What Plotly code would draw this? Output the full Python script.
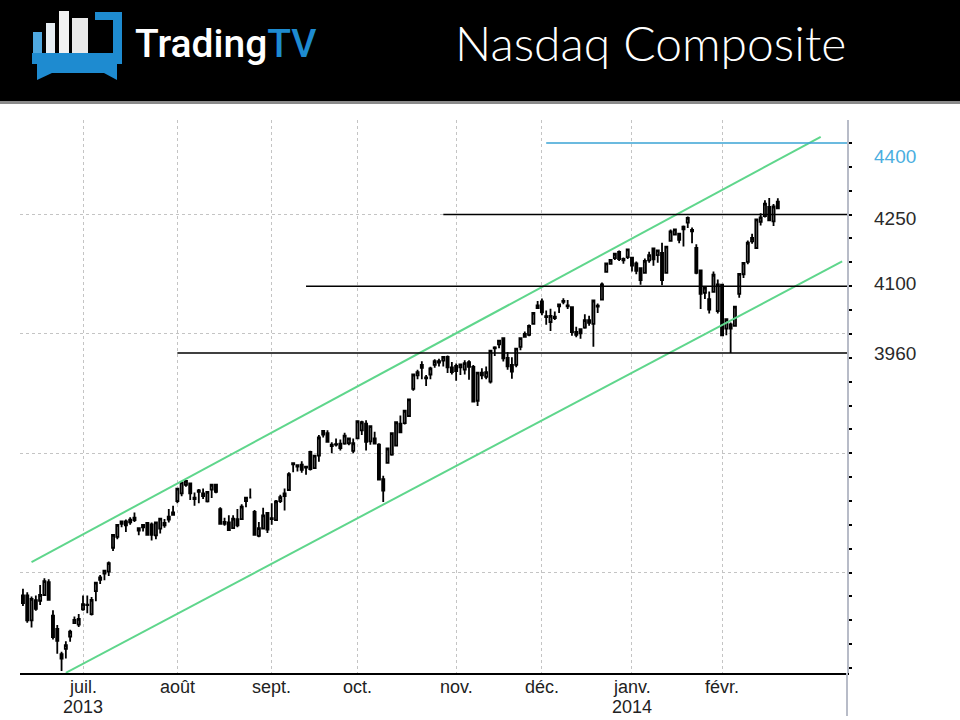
import pandas as pd
import plotly.graph_objects as go

# ---------------- data ----------------
HOLIDAYS = ["2013-07-04", "2013-09-02", "2013-11-28", "2013-12-25",
            "2014-01-01", "2014-01-20", "2014-02-17"]
CALENDAR = [d.strftime("%Y-%m-%d") for d in pd.bdate_range("2013-06-11", "2014-03-21")
            if d.strftime("%Y-%m-%d") not in HOLIDAYS]

OPEN = [
    3452, 3452, 3400, 3442, 3441, 3453, 3480, 3410, 3382, 3329, 3340, 3366, 3394, 3391,
    3423, 3432, 3413, 3461, 3490, 3498, 3502, 3552, 3575, 3602, 3607, 3605, 3615, 3593, 3595, 3604, 3601, 3578, 3592, 3604, 3611, 3621,
    3650, 3666, 3684, 3687, 3657, 3672, 3666, 3649, 3674, 3684, 3633, 3606, 3605, 3593, 3612, 3612, 3650, 3657, 3627, 3577, 3592, 3625,
    3614, 3610, 3650, 3666, 3673, 3727, 3722, 3726, 3720, 3753, 3719, 3745, 3797, 3792, 3768, 3769, 3770, 3770, 3771, 3755,
    3781, 3798, 3812, 3775, 3781, 3768, 3696, 3730, 3747, 3766, 3812, 3813, 3828, 3885, 3913, 3935, 3909, 3915, 3935, 3943, 3944, 3952, 3930,
    3933, 3930, 3925, 3941, 3931, 3860, 3913, 3910, 3900, 3970, 3978, 3991, 3950, 3935, 3935, 3973, 4000, 3998, 4021, 4054,
    4068, 4035, 4025, 4036, 4058, 4067, 4058, 4056, 4004, 4010, 4013, 4029, 4021, 4057, 4072, 4130, 4147, 4159, 4172, 4157, 4161,
    4160, 4148, 4138, 4128, 4154, 4179, 4165, 4170, 4128, 4195, 4208, 4210, 4219, 4233, 4215, 4180, 4133, 4086, 4073, 4088, 4048,
    4103, 4011, 4020, 4017, 4084, 4125, 4151, 4194, 4180, 4235, 4247, 4266, 4236, 4277,
]
HIGH = [
    3466, 3459, 3450, 3452, 3474, 3488, 3486, 3421, 3390, 3334, 3356, 3380, 3408, 3413,
    3452, 3452, 3449, 3481, 3495, 3506, 3523, 3579, 3602, 3609, 3611, 3616, 3626, 3594, 3600, 3606, 3605, 3606, 3614, 3612, 3633, 3640,
    3676, 3689, 3694, 3688, 3668, 3675, 3676, 3670, 3686, 3686, 3637, 3615, 3620, 3620, 3633, 3643, 3658, 3676, 3631, 3606, 3636, 3626,
    3645, 3652, 3663, 3676, 3710, 3730, 3727, 3733, 3724, 3755, 3747, 3788, 3798, 3798, 3773, 3781, 3779, 3793, 3782, 3781,
    3818, 3818, 3819, 3808, 3795, 3771, 3703, 3760, 3792, 3817, 3829, 3839, 3864, 3915, 3925, 3943, 3914, 3931, 3947, 3948, 3952, 3955, 3941,
    3938, 3936, 3945, 3945, 3935, 3920, 3928, 3932, 3966, 3974, 3986, 3993, 3962, 3951, 3970, 3991, 4005, 4020, 4046, 4069,
    4074, 4049, 4053, 4047, 4063, 4075, 4071, 4058, 4015, 4011, 4041, 4038, 4070, 4064, 4108, 4148, 4155, 4168, 4175, 4160, 4177,
    4160, 4152, 4139, 4158, 4172, 4180, 4175, 4191, 4183, 4219, 4219, 4212, 4227, 4246, 4223, 4188, 4134, 4098, 4089, 4131, 4114,
    4105, 4033, 4024, 4057, 4126, 4149, 4196, 4210, 4240, 4253, 4280, 4285, 4272, 4284,
]
LOW = [
    3430, 3395, 3385, 3420, 3432, 3453, 3443, 3360, 3330, 3294, 3320, 3355, 3394, 3386,
    3420, 3415, 3410, 3440, 3476, 3484, 3493, 3545, 3570, 3595, 3585, 3600, 3606, 3578, 3586, 3578, 3567, 3570, 3582, 3594, 3605, 3621,
    3645, 3660, 3680, 3652, 3640, 3645, 3654, 3647, 3656, 3666, 3600, 3598, 3588, 3592, 3595, 3612, 3637, 3655, 3578, 3574, 3590, 3583,
    3600, 3608, 3646, 3630, 3673, 3710, 3712, 3709, 3705, 3714, 3718, 3732, 3783, 3773, 3750, 3764, 3756, 3768, 3767, 3750,
    3780, 3788, 3756, 3768, 3770, 3694, 3648, 3728, 3745, 3764, 3793, 3810, 3826, 3881, 3905, 3905, 3891, 3905, 3929, 3932, 3932, 3918, 3915,
    3902, 3914, 3915, 3904, 3857, 3849, 3905, 3905, 3896, 3954, 3970, 3942, 3925, 3906, 3930, 3966, 3992, 3995, 4020, 4052,
    4039, 4019, 4006, 4029, 4044, 4062, 4052, 3996, 3993, 3990, 4011, 4017, 3973, 4044, 4071, 4128, 4145, 4155, 4153, 4147, 4157,
    4131, 4125, 4103, 4127, 4149, 4143, 4149, 4102, 4128, 4195, 4206, 4190, 4183, 4222, 4190, 4125, 4052, 4073, 4043, 4087, 4043,
    3996, 3997, 3960, 4015, 4076, 4117, 4146, 4189, 4178, 4227, 4244, 4236, 4226, 4261,
]
CLOSE = [
    3436, 3400, 3445, 3424, 3453, 3482, 3443, 3365, 3357, 3320, 3348, 3376, 3401, 3403,
    3434, 3433, 3443, 3479, 3485, 3504, 3520, 3579, 3600, 3607, 3599, 3611, 3610, 3588, 3600, 3579, 3579, 3605, 3613, 3599, 3617, 3626,
    3676, 3689, 3692, 3666, 3654, 3669, 3660, 3669, 3684, 3669, 3602, 3602, 3589, 3613, 3599, 3638, 3657, 3657, 3579, 3593, 3620, 3590,
    3612, 3649, 3658, 3660, 3706, 3729, 3725, 3715, 3722, 3717, 3745, 3783, 3789, 3774, 3765, 3768, 3761, 3787, 3781, 3771,
    3817, 3815, 3774, 3807, 3770, 3695, 3672, 3760, 3792, 3815, 3794, 3839, 3863, 3915, 3920, 3929, 3907, 3928, 3943, 3940, 3952, 3930, 3920,
    3922, 3936, 3939, 3931, 3858, 3919, 3919, 3920, 3965, 3972, 3986, 3949, 3932, 3921, 3969, 3991, 3994, 4017, 4044, 4060,
    4045, 4037, 4038, 4033, 4062, 4069, 4060, 4004, 3998, 4001, 4029, 4023, 4070, 4059, 4104, 4148, 4155, 4168, 4157, 4154, 4177,
    4143, 4132, 4113, 4153, 4165, 4156, 4175, 4113, 4183, 4215, 4219, 4197, 4225, 4243, 4218, 4128, 4084, 4097, 4051, 4124, 4104,
    3997, 4031, 4011, 4057, 4126, 4149, 4191, 4201, 4240, 4244, 4273, 4238, 4267, 4263,
]

MONTH_LABELS = ["juil.", "août", "sept.", "oct.", "nov.", "déc.", "janv.", "févr."]
YEAR_LABELS = ["2013", "2014"]
YEAR_AT = ["2013-07", "2014-01"]

LEVEL_VALUES = [3960, 4100, 4250, 4400]
LEVEL_LABELS = ["3960", "4100", "4250", "4400"]
LEVEL_START = ["2013-08-01", "2013-09-13", "2013-10-29", "2013-12-03"]

CHANNEL_UP_DATES = ["2013-06-13", "2014-03-07"]
CHANNEL_UP_VALUES = [3522, 4413]
CHANNEL_LO_DATES = ["2013-06-25", "2014-03-14"]
CHANNEL_LO_VALUES = [3290, 4152]

TITLE = "Nasdaq Composite"

# ---------------- helpers ----------------
for arr in (OPEN, HIGH, LOW):
    if len(arr) != len(CLOSE):
        raise ValueError("length mismatch")
N = len(CLOSE)
DATES = CALENDAR[:N]
IDX = {d: i for i, d in enumerate(CALENDAR)}
X = list(range(N))

# month-start positions
month_pos = []
seen = set()
for i, d in enumerate(DATES):
    m = d[:7]
    if m not in seen:
        seen.add(m)
        month_pos.append((m, i))
month_pos = [p for p in month_pos if p[0] >= "2013-07"]
TICKVALS = [p[1] for p in month_pos]
month_index = dict(month_pos)

X_MIN, X_MAX = -0.69, 192.13
Y_MIN, Y_MAX = 3289.6, 4448.2

# pixel layout helpers
PL, PR, PT, PB = 20, 847, 120, 673
W, H = 960, 720
def px_x(px):
    return (px - PL) / (PR - PL)
def px_y(py):
    return (PB - py) / (PB - PT)

fig = go.Figure()

fig.add_trace(go.Candlestick(
    x=X, open=OPEN, high=HIGH, low=LOW, close=CLOSE,
    increasing=dict(fillcolor="white", line=dict(color="black", width=1.8)),
    decreasing=dict(fillcolor="black", line=dict(color="black", width=1.8)),
    whiskerwidth=0, showlegend=False, hoverinfo="skip",
))

# channel lines
fig.add_trace(go.Scatter(x=[IDX[d] for d in CHANNEL_UP_DATES], y=CHANNEL_UP_VALUES,
                         mode="lines", line=dict(color="#5fd68c", width=2),
                         showlegend=False, hoverinfo="skip"))
fig.add_trace(go.Scatter(x=[IDX[d] for d in CHANNEL_LO_DATES], y=CHANNEL_LO_VALUES,
                         mode="lines", line=dict(color="#5fd68c", width=2),
                         showlegend=False, hoverinfo="skip"))

# horizontal levels
label_shift = [0, 3, -4, -13]
for v, s, lab, sh in zip(LEVEL_VALUES, LEVEL_START, LEVEL_LABELS, label_shift):
    col = "#3aa3d4" if v == 4400 else "black"
    fig.add_trace(go.Scatter(x=[IDX[s], X_MAX], y=[v, v], mode="lines",
                             line=dict(color=col, width=1.5),
                             showlegend=False, hoverinfo="skip", cliponaxis=False))
    fig.add_annotation(x=px_x(895), xref="paper", y=v, yref="y", yshift=sh,
                       text=lab, showarrow=False, xanchor="center", yanchor="middle",
                       font=dict(family="Liberation Sans, Arial", size=19,
                                 color="#4aaee0" if v == 4400 else "#2a2a2a"))

# month and year labels
for lab, tv in zip(MONTH_LABELS, TICKVALS):
    fig.add_annotation(x=tv, xref="x", y=px_y(687), yref="paper",
                       text=lab, showarrow=False, xanchor="center", yanchor="middle",
                       font=dict(family="Liberation Sans, Arial", size=18, color="#222"))
for lab, ym in zip(YEAR_LABELS, YEAR_AT):
    fig.add_annotation(x=month_index[ym], xref="x", y=px_y(707), yref="paper",
                       text=lab, showarrow=False, xanchor="center", yanchor="middle",
                       font=dict(family="Liberation Sans, Arial", size=18, color="#222"))

# header
shapes = []
shapes.append(dict(type="rect", xref="paper", yref="paper",
                   x0=px_x(0), x1=px_x(W), y0=px_y(101), y1=px_y(0),
                   fillcolor="black", line=dict(width=0), layer="above"))
shapes.append(dict(type="rect", xref="paper", yref="paper",
                   x0=px_x(0), x1=px_x(W), y0=px_y(104), y1=px_y(101),
                   fillcolor="#8a8a8a", line=dict(width=0), layer="above"))
# right axis extension below x axis
shapes.append(dict(type="line", xref="paper", yref="paper",
                   x0=1, x1=1, y0=px_y(716), y1=0,
                   line=dict(color="#b8bcc8", width=2)))

# logo icon
BLUE = "#1e8bd0"
def rect(x0, y0, x1, y1, color):
    return dict(type="rect", xref="paper", yref="paper",
                x0=px_x(x0), x1=px_x(x1), y0=px_y(y1), y1=px_y(y0),
                fillcolor=color, line=dict(width=0), layer="above")
shapes += [
    rect(33, 32, 42, 53, "#4fa8e0"),
    rect(46, 23, 55, 53, "#e6edf2"),
    rect(59, 11, 69, 53, "#f2f2f2"),
    rect(72, 18, 88, 53, "#e9e9e9"),
    rect(95, 12, 122, 20, BLUE),
    rect(113, 12, 122, 63, BLUE),
    rect(32, 53, 122, 64, BLUE),
]
pts = [(37, 64), (117, 64), (117, 80), (104, 73), (52, 73), (37, 80)]
path = "M " + " L ".join(f"{px_x(a):.5f},{px_y(b):.5f}" for a, b in pts) + " Z"
shapes.append(dict(type="path", xref="paper", yref="paper", path=path,
                   fillcolor=BLUE, line=dict(width=0), layer="above"))

fig.add_annotation(x=px_x(226), xref="paper", y=px_y(44), yref="paper",
                   text="Trading<span style='color:#1e8bd0'>TV</span>",
                   showarrow=False, xanchor="center", yanchor="middle",
                   font=dict(family="Roboto", size=39, color="white", weight=500))
fig.add_annotation(x=px_x(650), xref="paper", y=px_y(42), yref="paper",
                   text=TITLE, showarrow=False, xanchor="center", yanchor="middle",
                   font=dict(family="Lato", size=48, color="white", weight=300))

fig.update_layout(
    width=W, height=H,
    margin=dict(l=PL, r=W - PR, t=PT, b=H - PB),
    paper_bgcolor="white", plot_bgcolor="white",
    shapes=shapes, showlegend=False, hovermode=False,
    xaxis=dict(range=[X_MIN, X_MAX], tickmode="array", tickvals=TICKVALS,
               showticklabels=False, ticks="", showgrid=True,
               gridcolor="#c4c4c4", griddash="dot", gridwidth=1,
               showline=True, linecolor="black", linewidth=2, zeroline=False,
               rangeslider=dict(visible=False)),
    yaxis=dict(side="right", range=[Y_MIN, Y_MAX], tickmode="array",
               tickvals=[3500, 3750, 4000, 4250], showticklabels=False,
               ticks="outside", ticklen=3, tickwidth=2, tickcolor="black",
               showgrid=True, gridcolor="#c4c4c4", griddash="dot", gridwidth=1,
               showline=True, linecolor="#b8bcc8", linewidth=2, zeroline=False,
               minor=dict(tickmode="linear", tick0=0, dtick=50, ticks="outside",
                          ticklen=3, tickwidth=2, tickcolor="black", showgrid=False)),
)

fig.write_html("out.html", config={"displayModeBar": False},
               post_script="document.body.style.margin='0';")
